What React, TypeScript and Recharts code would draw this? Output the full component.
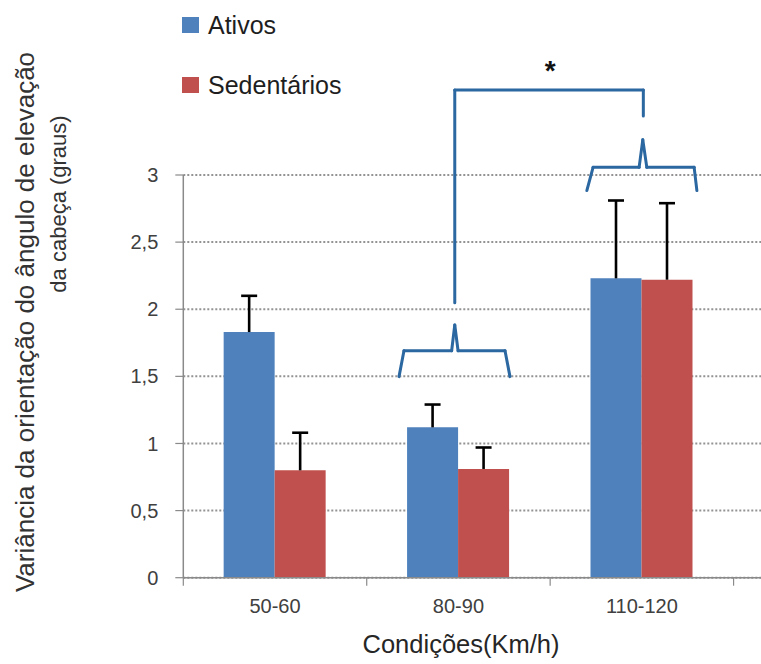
import React from 'react';
import {
  BarChart, Bar, XAxis, YAxis, CartesianGrid, Legend, ReferenceLine, ReferenceDot
} from 'recharts';

// categories (the last one is empty: the original axis runs on past the crop)
const categories = ['50-60', '80-90', '110-120', ''];
const ativos = [1.83, 1.12, 2.23, null];
const ativosErr = [0.27, 0.17, 0.58, null];
const sedentarios = [0.8, 0.81, 2.22, null];
const sedentariosErr = [0.28, 0.16, 0.57, null];
const yTicks = [0, 0.5, 1, 1.5, 2, 2.5, 3];

// annotation paths, in (category units, value units)
const brace8090 = [[1.176, 1.498], [1.203, 1.691], [1.463, 1.691], [1.48, 1.883], [1.498, 1.691], [1.754, 1.691], [1.781, 1.498]];
const brace110120 = [[2.2, 2.884], [2.234, 3.057], [2.485, 3.057], [2.505, 3.262], [2.527, 3.057], [2.785, 3.057], [2.8, 2.884]];
const bracket = [[1.48, 2.049], [1.48, 3.634], [2.508, 3.634], [2.508, 3.44]];

const data = categories.map((cat, i) => ({
  cat,
  pos: i + 0.5,
  ativos: ativos[i],
  ativosErr: ativosErr[i],
  sedentarios: sedentarios[i],
  sedentariosErr: sedentariosErr[i],
}));

const FONT = '"Liberation Sans", Arial, Helvetica, sans-serif';
const BLUE = '#4f81bd';
const RED = '#c0504d';
const ANN = '#2b67a0';
const AXIS = '#8a8a8a';

const toSegments = (pts: number[][]) =>
  pts.slice(1).map((p, i) => [
    { x: pts[i][0], y: pts[i][1] },
    { x: p[0], y: p[1] },
  ]);

const annSegments = [...toSegments(brace8090), ...toSegments(brace110120), ...toSegments(bracket)];

// upper error bar drawn on a stacked segment (value -> value + err)
const ErrorShape = (props: any) => {
  const { x, y, width, height } = props;
  if (!height || height <= 0) return null;
  const cx = x + width / 2;
  return (
    <g>
      <line x1={cx} y1={y + height} x2={cx} y2={y} stroke="#000" strokeWidth={2.6} />
      <line x1={cx - 8} y1={y} x2={cx + 8} y2={y} stroke="#000" strokeWidth={2.6} />
    </g>
  );
};

// category ticks sit on the band boundaries, labels at band centre
const XTick = (props: any) => {
  const { x, y, payload } = props;
  const off = payload.offset || 0;
  return (
    <g>
      <line x1={x - off} y1={y} x2={x - off} y2={y + 8} stroke={AXIS} strokeWidth={1.2} />
      <text x={x} y={y + 35} textAnchor="middle" fontSize={20} fill="#404040" fontFamily={FONT}>
        {payload.value}
      </text>
    </g>
  );
};

const renderLegend = (props: any) => (
  <div style={{ position: 'relative', width: 400, height: 110 }}>
    {props.payload
      .filter((e: any) => !String(e.dataKey).endsWith('Err'))
      .map((e: any, i: number) => (
        <div
          key={e.value}
          style={{ position: 'absolute', left: 182, top: 10 + i * 60, height: 30, display: 'flex', alignItems: 'center' }}
        >
          <span style={{ display: 'inline-block', width: 17, height: 16, background: e.color, marginRight: 9 }} />
          <span style={{ fontFamily: FONT, fontSize: 25, color: '#1e1e1e' }}>{e.value}</span>
        </div>
      ))}
  </div>
);

const YLabel = () => (
  <g fontFamily={FONT} fill="#333">
    <text transform="translate(25,322) rotate(-90)" textAnchor="middle" dominantBaseline="central" fontSize={26}>
      Variância da orientação do ângulo de elevação
    </text>
    <text transform="translate(58,204) rotate(-90)" textAnchor="middle" dominantBaseline="central" fontSize={22}>
      da cabeça (graus)
    </text>
  </g>
);

const XLabel = () => (
  <text x={461} y={653} textAnchor="middle" fontSize={25.5} fill="#262626" fontFamily={FONT}>
    Condições(Km/h)
  </text>
);

export default function App() {
  return (
    <div style={{ position: 'absolute', left: 0, top: 0, width: 761, height: 664, overflow: 'hidden', background: '#fff' }}>
      <BarChart
        width={917}
        height={664}
        data={data}
        margin={{ top: 175, right: 0, bottom: 0, left: 0 }}
        barCategoryGap="22%"
        barGap={0}
      >
        <CartesianGrid vertical={false} stroke="#939393" strokeWidth={2} strokeDasharray="2 2" />
        <XAxis
          dataKey="cat"
          interval={0}
          height={86.3}
          axisLine={{ stroke: AXIS, strokeWidth: 1.5 }}
          tickLine={false}
          tickSize={0}
          tickMargin={0}
          tick={<XTick />}
          label={{ content: () => <XLabel /> }}
        />
        <XAxis
          xAxisId="ann"
          dataKey="pos"
          type="number"
          domain={[0, 4]}
          ticks={[0, 1, 2, 3, 4]}
          allowDataOverflow
          hide
        />
        <YAxis
          domain={[0, 3]}
          ticks={yTicks}
          width={183.3}
          axisLine={{ stroke: AXIS, strokeWidth: 1.5 }}
          tickLine={{ stroke: AXIS, strokeWidth: 1.2 }}
          tickSize={8}
          tickMargin={17}
          tick={{ fontSize: 20, fill: '#404040', fontFamily: FONT }}
          tickFormatter={(v: number) => String(v).replace('.', ',')}
          label={{ content: () => <YLabel /> }}
        />
        <Legend
          layout="horizontal"
          align="center"
          verticalAlign="middle"
          wrapperStyle={{ left: 0, top: 0, width: 400 }}
          content={renderLegend}
        />
        <Bar dataKey="ativos" name="Ativos" stackId="a" fill={BLUE} isAnimationActive={false} />
        <Bar dataKey="ativosErr" stackId="a" fill="none" legendType="none" shape={<ErrorShape />} isAnimationActive={false} />
        <Bar dataKey="sedentarios" name="Sedentários" stackId="s" fill={RED} isAnimationActive={false} />
        <Bar dataKey="sedentariosErr" stackId="s" fill="none" legendType="none" shape={<ErrorShape />} isAnimationActive={false} />
        {annSegments.map((seg, i) => (
          <ReferenceLine
            key={`ann-${i}`}
            xAxisId="ann"
            segment={seg}
            ifOverflow="visible"
            stroke={ANN}
            strokeWidth={3}
            strokeLinecap="round"
          />
        ))}
        <ReferenceDot
          xAxisId="ann"
          x={2.0}
          y={3.78}
          r={0}
          fill="none"
          stroke="none"
          ifOverflow="visible"
          label={{ value: '*', position: 'center', fontSize: 28, fontWeight: 'bold', fill: '#111', fontFamily: FONT }}
        />
      </BarChart>
    </div>
  );
}
